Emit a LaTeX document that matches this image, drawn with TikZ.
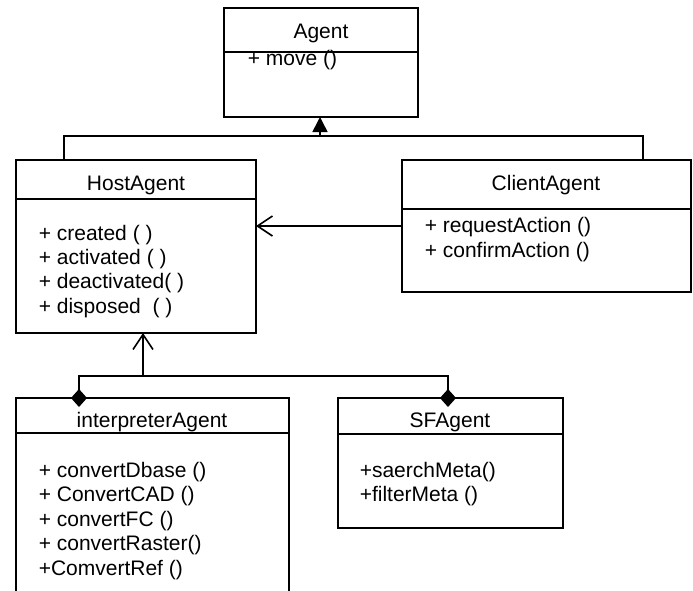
\documentclass[tikz,border=0pt]{standalone}
\usepackage{fontspec}
\setmainfont{Liberation Sans}
\usetikzlibrary{arrows.meta,calc}
\begin{document}
\begin{tikzpicture}[x=1pt,y=-1pt,line width=1.6pt,
  classbox/.style={draw,rectangle,inner sep=0pt,outer sep=0pt,anchor=north west},
  title/.style={anchor=base,inner sep=0pt,font=\fontsize{21}{24}\selectfont},
  item/.style={anchor=base west,inner sep=0pt,font=\fontsize{21}{24}\selectfont},
  barb/.style={-{Straight Barb[length=15pt,width=20pt]}},
  aggr/.style={{Diamond[length=18pt,width=16pt]}-{Diamond[length=18pt,width=16pt]}}]
\clip (0,0) rectangle (693,590);

% class boxes
\node[classbox,minimum width=194pt,minimum height=109pt] (agent)  at (224,8)   {};
\node[classbox,minimum width=240pt,minimum height=173pt] (host)   at (16,160)  {};
\node[classbox,minimum width=289pt,minimum height=132pt] (client) at (402,160) {};
\node[classbox,minimum width=273pt,minimum height=220pt] (interp) at (16,398)  {};
\node[classbox,minimum width=225pt,minimum height=130pt] (sf)     at (338,398) {};

% compartment dividers
\draw ($(agent.north west)+(0,44)$)  -- ($(agent.north east)+(0,44)$);
\draw ($(host.north west)+(0,39)$)   -- ($(host.north east)+(0,39)$);
\draw ($(client.north west)+(0,49)$) -- ($(client.north east)+(0,49)$);
\draw ($(interp.north west)+(0,35)$) -- ($(interp.north east)+(0,35)$);
\draw ($(sf.north west)+(0,36)$)     -- ($(sf.north east)+(0,36)$);

% class names
\node[title] (agentT)  at (321,38)  {Agent};
\node[title] (hostT)   at (136,190) {HostAgent};
\node[title] (clientT) at (546,190) {ClientAgent};
\node[title] (interpT) at (152,427) {interpreterAgent};
\node[title] (sfT)     at (450,427) {SFAgent};

% operations
\node[item] (agentOp) at (247,65) {+ move ()};
\foreach \op [count=\i] in {+ created ( ),+ activated ( ),+ deactivated( ),+ disposed\ \ ( )}
  \node[item] (hostOp\i) at (38,{240+24.4*(\i-1)}) {\op};
\foreach \op [count=\i] in {+ requestAction (),+ confirmAction ()}
  \node[item] (clientOp\i) at (424,{232+25*(\i-1)}) {\op};
\foreach \op [count=\i] in {+ convertDbase (),+ ConvertCAD (),+ convertFC (),+ convertRaster(),+ComvertRef ()}
  \node[item] (interpOp\i) at (38,{477+24.5*(\i-1)}) {\op};
\foreach \op [count=\i] in {+saerchMeta(),+filterMeta ()}
  \node[item] (sfOp\i) at (359,{477+24.5*(\i-1)}) {\op};

% generalisation towards Agent
\coordinate (busA) at (320,136);
\draw ($(host.north west)+(48,0)$) |- (busA) -| ($(client.north west)+(241,0)$);
\draw[-{Triangle[length=15pt,width=15pt]}] (busA) -- (agent.south -| busA);

% ClientAgent uses HostAgent
\draw[barb] (client.west) -- (host.east |- client.west);

% aggregation of the interpreter and SF agents
\coordinate (busB) at (143,376);
\draw[aggr] ($(interp.north west)+(63,9)$) |- (busB) -| ($(sf.north west)+(110,9)$);
\draw[barb] (busB) -- (host.south -| busB);
\end{tikzpicture}
\end{document}
